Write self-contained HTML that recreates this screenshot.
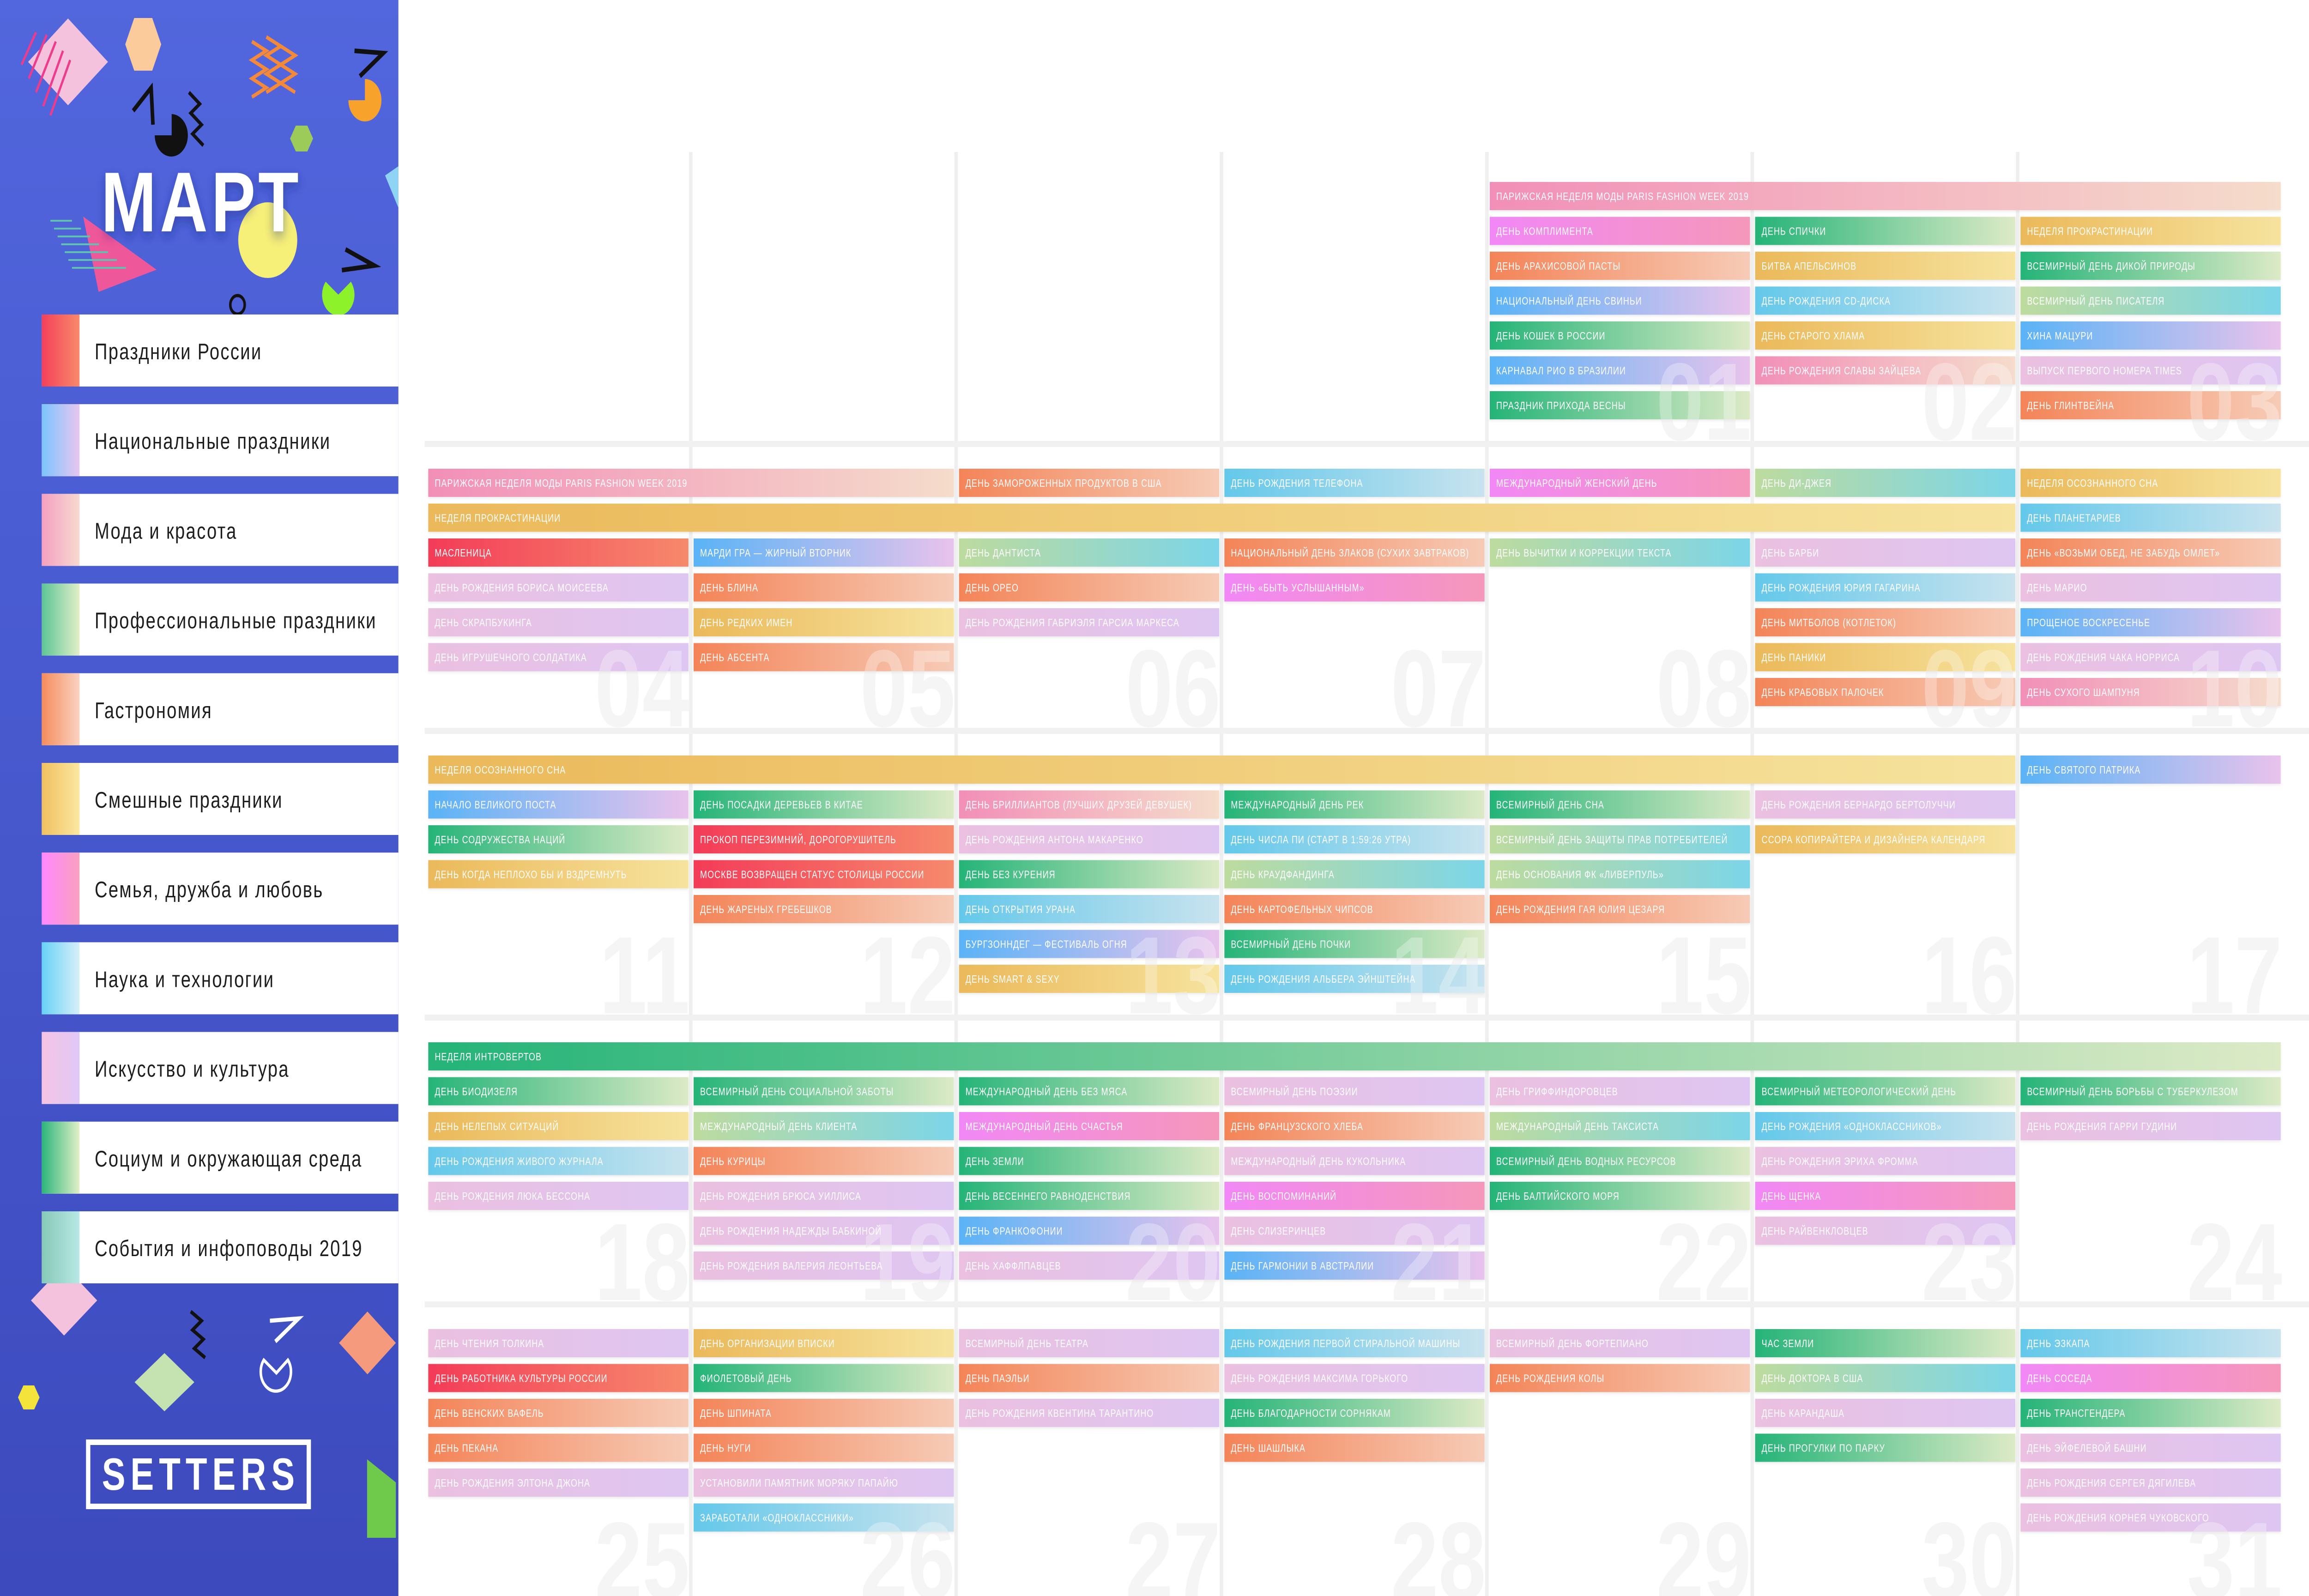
<!DOCTYPE html>
<html lang="ru">
<head>
<meta charset="utf-8">
<meta name="viewport" content="width=6416">
<style>
html,body{margin:0;padding:0;background:#fff;width:100vw;height:100vh;overflow:hidden;}
svg{display:block;width:100vw;height:100vh;}
</style>
</head>
<body>
<svg id="root" viewBox="0 0 6416 3456" preserveAspectRatio="none" xmlns="http://www.w3.org/2000/svg">
<defs id="defs">
  <linearGradient id="sideBg" x1="0" y1="0" x2="0" y2="1">
    <stop offset="0" stop-color="#5266dd"/><stop offset="1" stop-color="#3c4abd"/>
  </linearGradient>
  <filter id="txtShadow" x="-10%" y="-10%" width="130%" height="140%">
    <feDropShadow dx="0" dy="10" stdDeviation="12" flood-color="#1b2280" flood-opacity="0.45"/>
  </filter>
  <filter id="barShadow" x="-2%" y="-20%" width="104%" height="150%">
    <feDropShadow dx="0" dy="3" stdDeviation="3" flood-color="#000" flood-opacity="0.08"/>
  </filter>
</defs>

<g>
  <rect x="0" y="0" width="1107" height="3456" fill="url(#sideBg)"/>
  <g>
    <polygon points="189,40 300,134 189,228 78,134" fill="#f4c2dc"/>
    <g stroke="#ee3c8c" stroke-width="6">
      <line x1="60" y1="140" x2="100" y2="70"/><line x1="80" y1="170" x2="130" y2="75"/><line x1="100" y1="200" x2="155" y2="90"/><line x1="120" y1="230" x2="175" y2="110"/><line x1="140" y1="250" x2="195" y2="130"/>
    </g>
    <polygon points="348,96 373,39 423,39 448,96 423,153 373,153" fill="#fbcb9c"/>
    <polyline points="700,90 740,110 700,130 740,150 700,170 740,190 700,210" fill="none" stroke="#f5893a" stroke-width="8"/>
    <polyline points="740,80 780,100 740,120 780,140 740,160 780,180 740,200" fill="none" stroke="#f5893a" stroke-width="8"/>
    <polyline points="780,100 820,120 780,140 820,160 780,180 820,200" fill="none" stroke="#f5893a" stroke-width="8"/>
    <polyline points="525,200 555,225 530,245 560,270 535,290 565,315" fill="none" stroke="#111" stroke-width="8"/>
    <path d="M477,293 L430,293 A46,46 0 1,0 477,247 Z" fill="#111"/>
    <path d="M1014,217 L1014,171 A46,46 0 1,1 968,217 Z" fill="#f7a22a"/>
    <polygon points="806,300 822,272 854,272 870,300 854,328 822,328" fill="#9ccb5a"/>
    <path d="M370,240 L420,190 L425,270" fill="none" stroke="#111" stroke-width="10"/>
    <path d="M985,110 L1065,115 L1000,165" fill="none" stroke="#111" stroke-width="10"/>
    <circle cx="744" cy="520" r="82" fill="#f6ef78"/>
    <polygon points="231,469 435,584 274,632" fill="#ee5799"/>
    <g stroke="#5fc2b0" stroke-width="4">
      <line x1="140" y1="478" x2="200" y2="478"/><line x1="150" y1="495" x2="225" y2="495"/><line x1="160" y1="512" x2="250" y2="512"/><line x1="170" y1="529" x2="275" y2="529"/><line x1="180" y1="546" x2="300" y2="546"/><line x1="190" y1="563" x2="325" y2="563"/><line x1="200" y1="580" x2="350" y2="580"/>
    </g>
    <path d="M940,638 L905,610 A45,45 0 1,0 975,610 Z" fill="#8ef22a"/>
    <path d="M960,540 L1040,575 L950,585" fill="none" stroke="#111" stroke-width="10"/>
    <polygon points="1070,380 1107,360 1107,450" fill="#8fd3f5"/>
    <circle cx="660" cy="660" r="20" fill="none" stroke="#111" stroke-width="7"/>
    <polygon points="178,2740 270,2816 178,2892 86,2816" fill="#f4c2dc"/>
    <polygon points="457,2930 540,2993 457,3056 374,2993" fill="#c5e3b0"/>
    <polygon points="1021,2840 1100,2908 1021,2976 942,2908" fill="#f59a7c"/>
    <polygon points="50,3026 65,3000 95,3000 110,3026 95,3052 65,3052" fill="#f3e33a"/>
    <polygon points="1020,3160 1100,3210 1100,3330 1020,3330" fill="#6fc94a"/>
    <path d="M768,2973 L733,2945 A42,42 0 1,0 800,2945 Z" fill="none" stroke="#fff" stroke-width="7"/>
    <path d="M750,2860 L830,2855 L765,2905" fill="none" stroke="#fff" stroke-width="9"/>
    <polyline points="530,2840 560,2860 535,2880 565,2900 540,2920 570,2940" fill="none" stroke="#111" stroke-width="8"/>
  </g>
  <text x="281" y="501" font-family="Liberation Sans, sans-serif" font-weight="700" font-size="184" letter-spacing="10" fill="#ffffff" filter="url(#txtShadow)">МАРТ</text>
  <g id="legend"></g>
  <g>
    <rect x="245" y="3123" width="613" height="139" fill="none" stroke="#ffffff" stroke-width="12"/>
    <text x="558" y="3226" text-anchor="middle" font-family="Liberation Sans, sans-serif" font-weight="700" font-size="98" letter-spacing="14" fill="#ffffff">SETTERS</text>
  </g>
</g>

<g id="grid"></g>
<g id="numsBack"></g>
<g id="bars"></g>
<g id="numsFront"></g>
</svg>

<script>
const catKeys   = ['R','O','P','Y','G','B','L','M','C','T'];
const catStart  = ['#f33c58','#f48458','#f28fb8','#ebb95a','#25b478','#5ab3f6','#ebc0e0','#f188f6','#64c8ea','#bddb9e'];
const catEnd    = ['#f6896c','#f6cbb6','#f5dccb','#f6e39e','#dceac6','#e8c3ec','#dec6f2','#f597ba','#c8e3ee','#7cd5e8'];

const legendNames = ['Праздники России','Национальные праздники','Мода и красота','Профессиональные праздники','Гастрономия','Смешные праздники','Семья, дружба и любовь','Наука и технологии','Искусство и культура','Социум и окружающая среда','События и инфоповоды 2019'];
const legendStart = ['#f4405a','#7cc4ff','#f5a0c0','#5cc596','#f58c5c','#f0c060','#ff88ff','#66d2f6','#f5c4e4','#2bb57a','#86c9b8'];
const legendEnd   = ['#f88a6a','#e8c6f0','#f7d9d0','#e3eec8','#fad2c0','#fbe7a0','#f9a0c0','#d8eef8','#e0c8f6','#e2efc8','#b8e8e4'];

const firstWeekday = 4;
const daysInMonth = 31;

const spanNames = ['ПАРИЖСКАЯ НЕДЕЛЯ МОДЫ PARIS FASHION WEEK 2019','НЕДЕЛЯ ПРОКРАСТИНАЦИИ','НЕДЕЛЯ ОСОЗНАННОГО СНА','НЕДЕЛЯ ИНТРОВЕРТОВ'];
const spanStart = [1,3,10,18];
const spanEnd   = [5,9,16,24];
const spanCat   = ['P','Y','Y','G'];
const spanSlot  = [0,1,0,0];

const evDay = [1,1,1,1,1,1, 2,2,2,2,2, 3,3,3,3,3,
 4,4,4,4, 5,5,5,5, 6,6,6,6, 7,7,7, 8,8, 9,9,9,9,9,9, 10,10,10,10,10,10,
 11,11,11, 12,12,12,12, 13,13,13,13,13,13, 14,14,14,14,14,14, 15,15,15,15, 16,16, 17,
 18,18,18,18, 19,19,19,19,19,19, 20,20,20,20,20,20, 21,21,21,21,21,21, 22,22,22,22, 23,23,23,23,23, 24,24,
 25,25,25,25,25, 26,26,26,26,26,26, 27,27,27, 28,28,28,28, 29,29, 30,30,30,30, 31,31,31,31,31,31];
const evName = [
'ДЕНЬ КОМПЛИМЕНТА','ДЕНЬ АРАХИСОВОЙ ПАСТЫ','НАЦИОНАЛЬНЫЙ ДЕНЬ СВИНЬИ','ДЕНЬ КОШЕК В РОССИИ','КАРНАВАЛ РИО В БРАЗИЛИИ','ПРАЗДНИК ПРИХОДА ВЕСНЫ',
'ДЕНЬ СПИЧКИ','БИТВА АПЕЛЬСИНОВ','ДЕНЬ РОЖДЕНИЯ CD-ДИСКА','ДЕНЬ СТАРОГО ХЛАМА','ДЕНЬ РОЖДЕНИЯ СЛАВЫ ЗАЙЦЕВА',
'ВСЕМИРНЫЙ ДЕНЬ ДИКОЙ ПРИРОДЫ','ВСЕМИРНЫЙ ДЕНЬ ПИСАТЕЛЯ','ХИНА МАЦУРИ','ВЫПУСК ПЕРВОГО НОМЕРА TIMES','ДЕНЬ ГЛИНТВЕЙНА',
'МАСЛЕНИЦА','ДЕНЬ РОЖДЕНИЯ БОРИСА МОИСЕЕВА','ДЕНЬ СКРАПБУКИНГА','ДЕНЬ ИГРУШЕЧНОГО СОЛДАТИКА',
'МАРДИ ГРА — ЖИРНЫЙ ВТОРНИК','ДЕНЬ БЛИНА','ДЕНЬ РЕДКИХ ИМЕН','ДЕНЬ АБСЕНТА',
'ДЕНЬ ЗАМОРОЖЕННЫХ ПРОДУКТОВ В США','ДЕНЬ ДАНТИСТА','ДЕНЬ ОРЕО','ДЕНЬ РОЖДЕНИЯ ГАБРИЭЛЯ ГАРСИА МАРКЕСА',
'ДЕНЬ РОЖДЕНИЯ ТЕЛЕФОНА','НАЦИОНАЛЬНЫЙ ДЕНЬ ЗЛАКОВ (СУХИХ ЗАВТРАКОВ)','ДЕНЬ «БЫТЬ УСЛЫШАННЫМ»',
'МЕЖДУНАРОДНЫЙ ЖЕНСКИЙ ДЕНЬ','ДЕНЬ ВЫЧИТКИ И КОРРЕКЦИИ ТЕКСТА',
'ДЕНЬ ДИ-ДЖЕЯ','ДЕНЬ БАРБИ','ДЕНЬ РОЖДЕНИЯ ЮРИЯ ГАГАРИНА','ДЕНЬ МИТБОЛОВ (КОТЛЕТОК)','ДЕНЬ ПАНИКИ','ДЕНЬ КРАБОВЫХ ПАЛОЧЕК',
'ДЕНЬ ПЛАНЕТАРИЕВ','ДЕНЬ «ВОЗЬМИ ОБЕД, НЕ ЗАБУДЬ ОМЛЕТ»','ДЕНЬ МАРИО','ПРОЩЕНОЕ ВОСКРЕСЕНЬЕ','ДЕНЬ РОЖДЕНИЯ ЧАКА НОРРИСА','ДЕНЬ СУХОГО ШАМПУНЯ',
'НАЧАЛО ВЕЛИКОГО ПОСТА','ДЕНЬ СОДРУЖЕСТВА НАЦИЙ','ДЕНЬ КОГДА НЕПЛОХО БЫ И ВЗДРЕМНУТЬ',
'ДЕНЬ ПОСАДКИ ДЕРЕВЬЕВ В КИТАЕ','ПРОКОП ПЕРЕЗИМНИЙ, ДОРОГОРУШИТЕЛЬ','МОСКВЕ ВОЗВРАЩЕН СТАТУС СТОЛИЦЫ РОССИИ','ДЕНЬ ЖАРЕНЫХ ГРЕБЕШКОВ',
'ДЕНЬ БРИЛЛИАНТОВ (ЛУЧШИХ ДРУЗЕЙ ДЕВУШЕК)','ДЕНЬ РОЖДЕНИЯ АНТОНА МАКАРЕНКО','ДЕНЬ БЕЗ КУРЕНИЯ','ДЕНЬ ОТКРЫТИЯ УРАНА','БУРГЗОННДЕГ — ФЕСТИВАЛЬ ОГНЯ','ДЕНЬ SMART & SEXY',
'МЕЖДУНАРОДНЫЙ ДЕНЬ РЕК','ДЕНЬ ЧИСЛА ПИ (СТАРТ В 1:59:26 УТРА)','ДЕНЬ КРАУДФАНДИНГА','ДЕНЬ КАРТОФЕЛЬНЫХ ЧИПСОВ','ВСЕМИРНЫЙ ДЕНЬ ПОЧКИ','ДЕНЬ РОЖДЕНИЯ АЛЬБЕРА ЭЙНШТЕЙНА',
'ВСЕМИРНЫЙ ДЕНЬ СНА','ВСЕМИРНЫЙ ДЕНЬ ЗАЩИТЫ ПРАВ ПОТРЕБИТЕЛЕЙ','ДЕНЬ ОСНОВАНИЯ ФК «ЛИВЕРПУЛЬ»','ДЕНЬ РОЖДЕНИЯ ГАЯ ЮЛИЯ ЦЕЗАРЯ',
'ДЕНЬ РОЖДЕНИЯ БЕРНАРДО БЕРТОЛУЧЧИ','ССОРА КОПИРАЙТЕРА И ДИЗАЙНЕРА КАЛЕНДАРЯ',
'ДЕНЬ СВЯТОГО ПАТРИКА',
'ДЕНЬ БИОДИЗЕЛЯ','ДЕНЬ НЕЛЕПЫХ СИТУАЦИЙ','ДЕНЬ РОЖДЕНИЯ ЖИВОГО ЖУРНАЛА','ДЕНЬ РОЖДЕНИЯ ЛЮКА БЕССОНА',
'ВСЕМИРНЫЙ ДЕНЬ СОЦИАЛЬНОЙ ЗАБОТЫ','МЕЖДУНАРОДНЫЙ ДЕНЬ КЛИЕНТА','ДЕНЬ КУРИЦЫ','ДЕНЬ РОЖДЕНИЯ БРЮСА УИЛЛИСА','ДЕНЬ РОЖДЕНИЯ НАДЕЖДЫ БАБКИНОЙ','ДЕНЬ РОЖДЕНИЯ ВАЛЕРИЯ ЛЕОНТЬЕВА',
'МЕЖДУНАРОДНЫЙ ДЕНЬ БЕЗ МЯСА','МЕЖДУНАРОДНЫЙ ДЕНЬ СЧАСТЬЯ','ДЕНЬ ЗЕМЛИ','ДЕНЬ ВЕСЕННЕГО РАВНОДЕНСТВИЯ','ДЕНЬ ФРАНКОФОНИИ','ДЕНЬ ХАФФЛПАВЦЕВ',
'ВСЕМИРНЫЙ ДЕНЬ ПОЭЗИИ','ДЕНЬ ФРАНЦУЗСКОГО ХЛЕБА','МЕЖДУНАРОДНЫЙ ДЕНЬ КУКОЛЬНИКА','ДЕНЬ ВОСПОМИНАНИЙ','ДЕНЬ СЛИЗЕРИНЦЕВ','ДЕНЬ ГАРМОНИИ В АВСТРАЛИИ',
'ДЕНЬ ГРИФФИНДОРОВЦЕВ','МЕЖДУНАРОДНЫЙ ДЕНЬ ТАКСИСТА','ВСЕМИРНЫЙ ДЕНЬ ВОДНЫХ РЕСУРСОВ','ДЕНЬ БАЛТИЙСКОГО МОРЯ',
'ВСЕМИРНЫЙ МЕТЕОРОЛОГИЧЕСКИЙ ДЕНЬ','ДЕНЬ РОЖДЕНИЯ «ОДНОКЛАССНИКОВ»','ДЕНЬ РОЖДЕНИЯ ЭРИХА ФРОММА','ДЕНЬ ЩЕНКА','ДЕНЬ РАЙВЕНКЛОВЦЕВ',
'ВСЕМИРНЫЙ ДЕНЬ БОРЬБЫ С ТУБЕРКУЛЕЗОМ','ДЕНЬ РОЖДЕНИЯ ГАРРИ ГУДИНИ',
'ДЕНЬ ЧТЕНИЯ ТОЛКИНА','ДЕНЬ РАБОТНИКА КУЛЬТУРЫ РОССИИ','ДЕНЬ ВЕНСКИХ ВАФЕЛЬ','ДЕНЬ ПЕКАНА','ДЕНЬ РОЖДЕНИЯ ЭЛТОНА ДЖОНА',
'ДЕНЬ ОРГАНИЗАЦИИ ВПИСКИ','ФИОЛЕТОВЫЙ ДЕНЬ','ДЕНЬ ШПИНАТА','ДЕНЬ НУГИ','УСТАНОВИЛИ ПАМЯТНИК МОРЯКУ ПАПАЙЮ','ЗАРАБОТАЛИ «ОДНОКЛАССНИКИ»',
'ВСЕМИРНЫЙ ДЕНЬ ТЕАТРА','ДЕНЬ ПАЭЛЬИ','ДЕНЬ РОЖДЕНИЯ КВЕНТИНА ТАРАНТИНО',
'ДЕНЬ РОЖДЕНИЯ ПЕРВОЙ СТИРАЛЬНОЙ МАШИНЫ','ДЕНЬ РОЖДЕНИЯ МАКСИМА ГОРЬКОГО','ДЕНЬ БЛАГОДАРНОСТИ СОРНЯКАМ','ДЕНЬ ШАШЛЫКА',
'ВСЕМИРНЫЙ ДЕНЬ ФОРТЕПИАНО','ДЕНЬ РОЖДЕНИЯ КОЛЫ',
'ЧАС ЗЕМЛИ','ДЕНЬ ДОКТОРА В США','ДЕНЬ КАРАНДАША','ДЕНЬ ПРОГУЛКИ ПО ПАРКУ',
'ДЕНЬ ЭЗКАПА','ДЕНЬ СОСЕДА','ДЕНЬ ТРАНСГЕНДЕРА','ДЕНЬ ЭЙФЕЛЕВОЙ БАШНИ','ДЕНЬ РОЖДЕНИЯ СЕРГЕЯ ДЯГИЛЕВА','ДЕНЬ РОЖДЕНИЯ КОРНЕЯ ЧУКОВСКОГО'];
const evCat = ['M','O','B','G','B','G', 'G','Y','C','Y','P', 'G','T','B','L','O',
 'R','L','L','L', 'B','O','Y','O', 'O','T','O','L', 'C','O','M', 'M','T', 'T','L','C','O','Y','O', 'C','O','L','B','L','P',
 'B','G','Y', 'G','R','R','O', 'P','L','G','C','B','Y', 'G','C','T','O','G','C', 'G','T','T','O', 'L','Y', 'B',
 'G','Y','C','L', 'G','T','O','L','L','L', 'G','M','G','G','B','L', 'L','O','L','M','L','B', 'L','T','G','G', 'G','C','L','M','L', 'G','L',
 'L','R','O','O','L', 'Y','G','O','O','L','C', 'L','O','L', 'C','L','G','O', 'L','O', 'G','T','L','G', 'C','M','G','L','L','L'];

const NS = 'http://www.w3.org/2000/svg';
const colX0 = 1190, colPitch = 737.4, barW = 723;
const weekY0 = 394, weekPitch = 621, slotPitch = 75.5, barH = 61;
const sepY0 = 961;
function colX(c){ return colX0 + colPitch*c; }
function slotY(w,s){ return weekY0 + weekPitch*w + slotPitch*s; }
function dayPos(d){ const i = d - 1 + firstWeekday; return {w: Math.floor(i/7), c: i%7}; }
function mk(tag, attrs, parent){ const e = document.createElementNS(NS, tag); for (const k in attrs) e.setAttribute(k, attrs[k]); parent.appendChild(e); return e; }

const defs = document.getElementById('defs');
catKeys.forEach((k,i)=>{
  const g = mk('linearGradient',{id:'cat'+k,x1:'0',y1:'0',x2:'1',y2:'0'},defs);
  mk('stop',{offset:'0','stop-color':catStart[i]},g);
  mk('stop',{offset:'1','stop-color':catEnd[i]},g);
});
legendNames.forEach((n,i)=>{
  const g = mk('linearGradient',{id:'leg'+i,x1:'0',y1:'0',x2:'1',y2:'0'},defs);
  mk('stop',{offset:'0','stop-color':legendStart[i]},g);
  mk('stop',{offset:'1','stop-color':legendEnd[i]},g);
});

const legend = document.getElementById('legend');
legendNames.forEach((n,i)=>{
  const y = 681 + 194.2*i;
  const g = mk('g',{},legend);
  
  
  mk('rect',{x:116,y:y,width:991,height:156,fill:'#ffffff'},g);
  mk('rect',{x:116,y:y,width:105,height:156,fill:'url(#leg'+i+')'},g);
  const t = mk('text',{x:263,y:y+97,'font-family':'Liberation Sans, sans-serif','font-size':49,'letter-spacing':3,fill:'#1d1d1d'},g);
  t.textContent = n;
});

const grid = document.getElementById('grid');
for (let c=1;c<=6;c++){
  const l = mk('rect',{x:colX(c)-13,y:329,width:10,height:3127,fill:'#efefef'},grid);
  
  
}
for (let w=0;w<4;w++){
  const s = mk('rect',{x:1180,y:sepY0+weekPitch*w-6,width:5236,height:13,fill:'#f1f1f1'},grid);
  
  
}

const nb = document.getElementById('numsBack'), nf = document.getElementById('numsFront');
for (let d=1; d<=daysInMonth; d++){
  const p = dayPos(d);
  const x = colX(p.c)+barW+4;
  const y = (p.w<4 ? sepY0+weekPitch*p.w-9 : 3462);
  const label = (d<10?'0':'')+d;
  const a = mk('text',{x:x,y:y,'text-anchor':'end','font-family':'Liberation Sans, sans-serif','font-weight':700,'font-size':238,fill:'#f1f1f1'},nb);
  a.textContent = label;
  
  
  const b = mk('text',{x:x,y:y,'text-anchor':'end','font-family':'Liberation Sans, sans-serif','font-weight':700,'font-size':238,fill:'#ffffff','fill-opacity':0.3},nf);
  b.textContent = label;
}

const bars = document.getElementById('bars');
const occupied = {};
function drawBar(name, cat, w, c0, c1, slot){
  const x = colX(c0), y = slotY(w,slot), wd = colPitch*(c1-c0)+barW;
  const g = mk('g',{},bars);
  
  
  mk('rect',{x:x,y:y,width:wd,height:barH,fill:'url(#cat'+cat+')',filter:'url(#barShadow)'},g);
  const t = mk('text',{x:x+18,y:y+39,'font-family':'Liberation Sans, sans-serif','font-size':23,'letter-spacing':1.4,fill:'#ffffff'},g);
  t.textContent = name;
  try { const L = t.getComputedTextLength(); if (L > wd-30) { t.setAttribute('textLength', wd-30); t.setAttribute('lengthAdjust','spacingAndGlyphs'); } } catch(e){}
}
spanNames.forEach((n,i)=>{
  let d = spanStart[i];
  while (d <= spanEnd[i]){
    const p = dayPos(d);
    let e = d; while (e+1 <= spanEnd[i] && dayPos(e+1).w === p.w) e++;
    drawBar(n, spanCat[i], p.w, p.c, dayPos(e).c, spanSlot[i]);
    d = e+1;
  }
  for (let k=spanStart[i]; k<=spanEnd[i]; k++) occupied[k+'_'+spanSlot[i]] = true;
});
const nextSlot = {};
evName.forEach((n,i)=>{
  const d = evDay[i];
  let s = nextSlot[d] || 0;
  while (occupied[d+'_'+s]) s++;
  const p = dayPos(d);
  drawBar(n, evCat[i], p.w, p.c, p.c, s);
  nextSlot[d] = s+1;
});
</script>
</body>
</html>
